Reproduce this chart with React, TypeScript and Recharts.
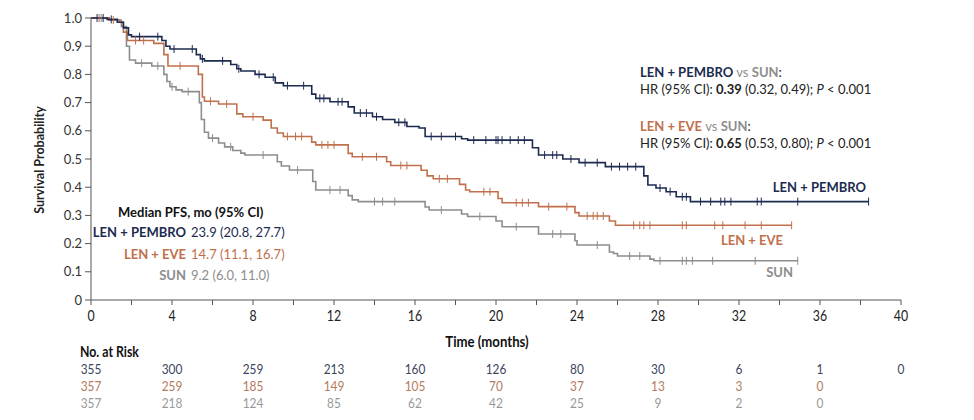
import React from "react";
import { ComposedChart, Line, Scatter, XAxis, YAxis } from "recharts";

// Kaplan-Meier steps: [month, survival]
const pembroSteps: [number, number][] = [
  [0, 1.0], [0.8, 0.995], [1.3, 0.985], [1.6, 0.965], [1.85, 0.94], [2.0, 0.934],
  [3.5, 0.92], [3.7, 0.9], [3.9, 0.89], [5.2, 0.87], [5.4, 0.855], [5.6, 0.848],
  [6.9, 0.835], [7.2, 0.82], [7.4, 0.812], [8.1, 0.8], [8.6, 0.79], [9.1, 0.77],
  [9.5, 0.76], [10.9, 0.73], [11.1, 0.715], [11.8, 0.703], [12.7, 0.685], [13.0, 0.663],
  [13.9, 0.65], [14.4, 0.64], [15.0, 0.63], [15.6, 0.615], [16.2, 0.61], [16.5, 0.58],
  [18.3, 0.572], [18.6, 0.567], [21.8, 0.54], [22.1, 0.514], [23.3, 0.5], [24.1, 0.487],
  [25.4, 0.473], [27.3, 0.44], [27.5, 0.408], [27.9, 0.397], [28.4, 0.384], [28.9, 0.366],
  [29.6, 0.349], [38.4, 0.349],
];
const eveSteps: [number, number][] = [
  [0, 1.0], [0.9, 0.993], [1.4, 0.985], [1.6, 0.95], [1.8, 0.92], [3.1, 0.91],
  [3.6, 0.87], [3.8, 0.83], [5.3, 0.8], [5.5, 0.72], [5.6, 0.705], [6.3, 0.695],
  [7.2, 0.66], [7.5, 0.65], [8.5, 0.638], [8.9, 0.61], [9.2, 0.592], [9.5, 0.58],
  [10.9, 0.56], [11.1, 0.55], [12.7, 0.52], [12.9, 0.508], [14.6, 0.49], [14.8, 0.477],
  [16.3, 0.46], [16.6, 0.44], [16.9, 0.43], [18.2, 0.41], [18.5, 0.39], [18.7, 0.384],
  [20.1, 0.36], [20.3, 0.345], [22.1, 0.331], [23.9, 0.31], [24.1, 0.298], [25.6, 0.28],
  [25.9, 0.265], [34.6, 0.265],
];
const sunSteps: [number, number][] = [
  [0, 1.0], [0.9, 0.993], [1.5, 0.97], [1.75, 0.9], [1.9, 0.851], [2.2, 0.84],
  [3.0, 0.83], [3.6, 0.8], [3.75, 0.775], [3.9, 0.756], [4.2, 0.745], [4.5, 0.739],
  [5.35, 0.7], [5.45, 0.64], [5.6, 0.595], [5.8, 0.574], [6.3, 0.557], [6.6, 0.543],
  [7.0, 0.53], [7.4, 0.521], [7.6, 0.514], [9.2, 0.49], [9.4, 0.475], [9.8, 0.461],
  [10.95, 0.42], [11.1, 0.39], [12.7, 0.37], [12.9, 0.355], [13.2, 0.349], [16.5, 0.33],
  [16.7, 0.319], [18.3, 0.305], [18.6, 0.296], [20.0, 0.28], [20.3, 0.26], [22.1, 0.234],
  [23.9, 0.21], [24.0, 0.195], [25.6, 0.17], [25.8, 0.165], [26.0, 0.156], [27.6, 0.145],
  [27.8, 0.139], [34.9, 0.139],
];

// censoring times (months)
const pembroCensor = [0.3, 0.6, 1.0, 2.4, 3.3, 4.1, 5.0, 5.5, 6.5, 7.3, 8.3, 9.0, 9.7, 10.5,
  11.3, 11.5, 12.2, 12.4, 13.3, 13.6, 14.1, 15.2, 15.5, 16.8, 17.3, 18.0, 18.9, 19.5, 20.0,
  20.1, 20.3, 20.7, 21.1, 21.4, 22.4, 22.8, 23.0, 23.7, 24.4, 25.0, 25.7, 26.1, 26.5, 26.9,
  28.1, 28.6, 29.2, 29.4, 30.1, 30.6, 31.1, 31.3, 31.6, 32.9, 33.1, 34.9, 38.4];
const eveCensor = [0.4, 1.1, 2.2, 2.6, 4.4, 5.9, 6.7, 8.0, 9.7, 10.1, 10.4, 11.4, 11.7, 12.0,
  13.4, 14.1, 15.3, 15.6, 17.2, 17.6, 19.4, 19.7, 21.0, 21.3, 21.6, 22.6, 23.5, 24.5, 24.8,
  25.0, 25.3, 26.8, 27.1, 27.3, 27.6, 29.2, 29.4, 30.8, 31.2, 32.3, 33.1, 34.6];
const sunCensor = [0.5, 2.5, 3.3, 4.0, 4.8, 6.0, 6.9, 8.5, 10.2, 11.8, 12.3, 14.0, 14.4, 15.0,
  17.3, 19.2, 21.0, 22.8, 23.2, 25.0, 26.6, 27.1, 28.1, 29.2, 29.4, 29.7, 30.7, 32.8, 34.9];

// numbers at risk
const riskMonths = [0, 4, 8, 12, 16, 20, 24, 28, 32, 36, 40];
const riskPembro = [355, 300, 259, 213, 160, 126, 80, 30, 6, 1, 0];
const riskEve = [357, 259, 185, 149, 105, 70, 37, 13, 3, 0];
const riskSun = [357, 218, 124, 85, 62, 42, 25, 9, 2, 0];

const xTicks = [0, 2, 4, 6, 8, 10, 12, 14, 16, 18, 20, 22, 24, 26, 28, 30, 32, 34, 36, 38, 40];
const yTicks = [0, 0.1, 0.2, 0.3, 0.4, 0.5, 0.6, 0.7, 0.8, 0.9, 1.0];

const NAVY = "#1d2b50";
const ORANGE = "#c0704c";
const GRAY = "#8d8d8d";
const SANS = "Lato, 'Open Sans', sans-serif";

const toPoints = (steps: [number, number][]) => steps.map(([t, s]) => ({ t, s }));
const at = (steps: [number, number][], t: number) => {
  let v = steps[0][1];
  for (const [st, s] of steps) if (st <= t) v = s;
  return v;
};
const censorPoints = (steps: [number, number][], times: number[]) =>
  times.map((t) => ({ t, s: at(steps, t) }));
const riskPoints = (counts: number[]) => counts.map((n, i) => ({ t: riskMonths[i], s: 0, n }));

const tickMark = (color: string) => (p: any) =>
  <line x1={p.cx} x2={p.cx} y1={p.cy - 4} y2={p.cy + 4} stroke={color} strokeWidth={1} />;

// the source uses a narrow face; squeeze horizontally around the anchor
const riskText = (color: string, y: number) => (p: any) =>
  <text transform={`translate(${p.cx},${y}) scale(0.88,1)`} textAnchor="middle" fontFamily={SANS} fontSize={13.5} fill={color}>{p.payload.n}</text>;

const XTick = (p: any) => {
  const v = p.payload.value;
  if (v % 4 !== 0) return null;
  return (
    <text transform={`translate(${p.x},${p.y + 14}) scale(0.85,1)`} textAnchor="middle" fontFamily={SANS} fontSize={14.5} fill="#222">{v}</text>
  );
};

export default function App() {
  return (
    <div style={{ position: "absolute", left: 0, top: 0, width: 974, height: 420, background: "#fff" }}>
      <ComposedChart width={974} height={420} margin={{ top: 18, right: 73, bottom: 90, left: 0 }}>
        <XAxis
          type="number" dataKey="t" domain={[0, 40]} ticks={xTicks}
          height={30} tickSize={5} tickMargin={2}
          stroke="#555" tick={<XTick />}
        />
        <YAxis
          type="number" dataKey="s" domain={[0, 1]} ticks={yTicks} width={91}
          tickFormatter={(v: number) => (v === 0 ? "0" : v.toFixed(1))}
          tickSize={6} tickMargin={3}
          stroke="#555" tick={{ fill: "#333", fontSize: 13, fontFamily: SANS }}
        />
        <Line data={toPoints(sunSteps)} dataKey="s" type="stepAfter" stroke={GRAY} strokeWidth={1.6} dot={false} isAnimationActive={false} />
        <Line data={toPoints(eveSteps)} dataKey="s" type="stepAfter" stroke={ORANGE} strokeWidth={1.6} dot={false} isAnimationActive={false} />
        <Line data={toPoints(pembroSteps)} dataKey="s" type="stepAfter" stroke={NAVY} strokeWidth={1.6} dot={false} isAnimationActive={false} />
        <Scatter data={censorPoints(sunSteps, sunCensor)} dataKey="s" shape={tickMark(GRAY)} isAnimationActive={false} />
        <Scatter data={censorPoints(eveSteps, eveCensor)} dataKey="s" shape={tickMark(ORANGE)} isAnimationActive={false} />
        <Scatter data={censorPoints(pembroSteps, pembroCensor)} dataKey="s" shape={tickMark(NAVY)} isAnimationActive={false} />
        <Scatter data={riskPoints(riskPembro)} dataKey="s" shape={riskText("#3b4660", 374)} isAnimationActive={false} />
        <Scatter data={riskPoints(riskEve)} dataKey="s" shape={riskText("#b57a60", 391)} isAnimationActive={false} />
        <Scatter data={riskPoints(riskSun)} dataKey="s" shape={riskText("#999", 408)} isAnimationActive={false} />

        <text transform="translate(44,160) rotate(-90)" textAnchor="middle" fontFamily={SANS} fontWeight={700} fontSize={12.5} fill="#222">Survival Probability</text>

        <g fontFamily={SANS} fontSize={13}>
          <text x={640} y={77} fill="#222"><tspan fill={NAVY} fontWeight={700}>LEN + PEMBRO</tspan> <tspan fill={GRAY}>vs</tspan> <tspan fill={GRAY} fontWeight={700}>SUN</tspan>:</text>
          <text x={640} y={94} fill="#222">HR (95% CI): <tspan fontWeight={700}>0.39</tspan> (0.32, 0.49); <tspan fontStyle="italic">P</tspan> &lt; 0.001</text>
          <text x={640} y={131} fill="#222"><tspan fill={ORANGE} fontWeight={700}>LEN + EVE</tspan> <tspan fill={GRAY}>vs</tspan> <tspan fill={GRAY} fontWeight={700}>SUN</tspan>:</text>
          <text x={640} y={148} fill="#222">HR (95% CI): <tspan fontWeight={700}>0.65</tspan> (0.53, 0.80); <tspan fontStyle="italic">P</tspan> &lt; 0.001</text>

          <text x={866} y={192} textAnchor="end" fill={NAVY} fontWeight={700}>LEN + PEMBRO</text>
          <text x={783} y={245} textAnchor="end" fill={ORANGE} fontWeight={700}>LEN + EVE</text>
          <text x={793} y={277} textAnchor="end" fill={GRAY} fontWeight={700}>SUN</text>

          <text x={118} y={217} fill="#111" fontWeight={700}>Median PFS, mo (95% CI)</text>
          <text x={186} y={237} textAnchor="end" fill={NAVY} fontWeight={700}>LEN + PEMBRO</text>
          <text x={191} y={237} fill={NAVY}>23.9 (20.8, 27.7)</text>
          <text x={186} y={259} textAnchor="end" fill={ORANGE} fontWeight={700}>LEN + EVE</text>
          <text x={191} y={259} fill={ORANGE}>14.7 (11.1, 16.7)</text>
          <text x={186} y={280} textAnchor="end" fill={GRAY} fontWeight={700}>SUN</text>
          <text x={191} y={280} fill={GRAY}>9.2 (6.0, 11.0)</text>
        </g>

        <text transform="translate(487,347) scale(0.85,1)" textAnchor="middle" fontFamily={SANS} fontWeight={700} fontSize={15.5} fill="#111">Time (months)</text>
        <text transform="translate(80,357) scale(0.82,1)" fontFamily={SANS} fontWeight={700} fontSize={15} fill="#111">No. at Risk</text>
      </ComposedChart>
    </div>
  );
}
